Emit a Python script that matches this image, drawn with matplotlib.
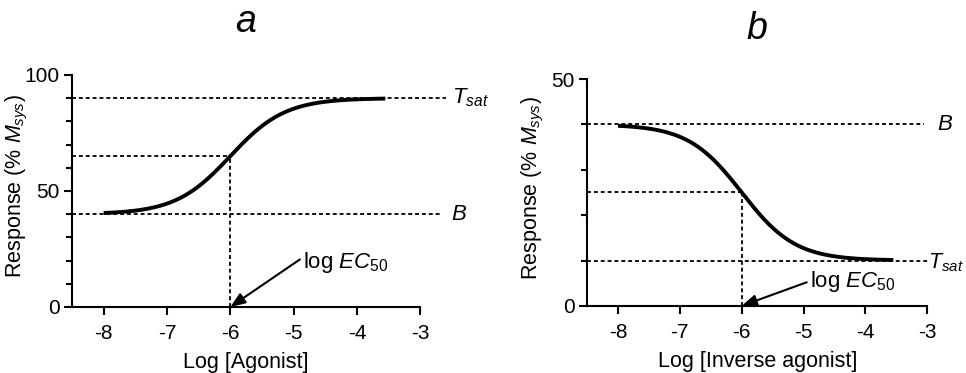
import numpy as np
import matplotlib
matplotlib.use("Agg")
import matplotlib.pyplot as plt

plt.rcParams['font.family'] = ['Liberation Sans', 'DejaVu Sans']
plt.rcParams['mathtext.fontset'] = 'custom'
plt.rcParams['mathtext.rm'] = 'Liberation Sans'
plt.rcParams['mathtext.it'] = 'Liberation Sans:italic'

# Data
log_conc = np.linspace(-8, -3.55, 200)
ec50 = -6.0
# panel a (agonist)
a_bottom, a_top = 40, 90
# panel b (inverse agonist)
b_basal, b_tsat = 40, 10
xticks = [-8, -7, -6, -5, -4, -3]
a_yticks = [0, 50, 100]
b_yticks = [0, 50]

def sigmoid(x, bottom, top, ec):
    return bottom + (top - bottom) / (1 + 10 ** (ec - x))

fig = plt.figure(figsize=(9.66, 3.73), dpi=100)
axA = fig.add_axes([0.0745, 0.177, 0.3605, 0.622])
axB = fig.add_axes([0.6077, 0.180, 0.3523, 0.608])

dash = dict(color='black', lw=1.3, linestyle=(0, (2.2, 1.6)), clip_on=False)

def style(ax, ymax, yticks):
    ax.set_xlim(-8.5, -3)
    ax.set_ylim(0, ymax)
    for s in ['top', 'right']:
        ax.spines[s].set_visible(False)
    for s in ['left', 'bottom']:
        ax.spines[s].set_linewidth(1.5)
    ax.set_xticks(xticks)
    ax.set_xticklabels([str(t) for t in xticks])
    ax.set_yticks(yticks)
    ax.set_yticklabels([str(int(v)) for v in yticks])
    ax.set_yticks(np.arange(0, ymax + 1, 10), minor=True)
    ax.tick_params(which='major', length=6, width=1.5, labelsize=15, pad=3)
    ax.tick_params(which='minor', length=4, width=1.5)
    ax.tick_params(axis='x', pad=6)
    ax.set_ylabel(r'Response (% $\mathit{M}_{\mathit{sys}}$)', fontsize=15.5)
    ax.yaxis.set_label_coords(-0.12, 0.52)

# Panel a
style(axA, 100, a_yticks)
ya = sigmoid(log_conc, a_bottom, a_top, ec50)
axA.plot(log_conc, ya, color='black', lw=2.8, solid_capstyle='butt')
mid_a = (a_bottom + a_top) / 2
axA.plot([-8.5, -2.6], [a_top, a_top], **dash)
axA.plot([-8.5, -2.68], [a_bottom, a_bottom], **dash)
axA.plot([-8.5, ec50], [mid_a, mid_a], **dash)
axA.plot([ec50, ec50], [0, mid_a], **dash)
axA.text(-2.5, a_top, r'$\mathit{T}_{\mathit{sat}}$', fontsize=16, va='center', ha='left')
axA.text(-2.52, a_bottom, r'$\mathit{B}$', fontsize=16, va='center', ha='left')
axA.annotate('', xy=(ec50, 0), xytext=(-4.9, 20.5),
             arrowprops=dict(arrowstyle='-|>,head_length=0.9,head_width=0.35', color='black', lw=1.5,
                             shrinkA=0, shrinkB=0), annotation_clip=False)
axA.text(-4.85, 19, r'log $\mathit{EC}_{\mathit{50}}$', fontsize=16, va='center', ha='left')
axA.set_xlabel('Log [Agonist]', fontsize=15.5, labelpad=7)
axA.set_title('a', fontsize=27, style='italic', pad=31)

# Panel b
style(axB, 50, b_yticks)
yb = sigmoid(log_conc, b_basal, b_tsat, ec50)
axB.plot(log_conc, yb, color='black', lw=2.8, solid_capstyle='butt')
mid_b = (b_basal + b_tsat) / 2
axB.plot([-8.5, -3.05], [b_basal, b_basal], **dash)
axB.plot([-8.5, -2.97], [b_tsat, b_tsat], **dash)
axB.plot([-8.5, ec50], [mid_b, mid_b], **dash)
axB.plot([ec50, ec50], [0, mid_b], **dash)
axB.text(-2.85, b_basal, r'$\mathit{B}$', fontsize=16, va='center', ha='left')
axB.text(-2.41, b_tsat - 0.5, r'$\mathit{T}_{\mathit{sat}}$', fontsize=15.5, va='center', ha='right')
axB.annotate('', xy=(ec50, 0), xytext=(-4.95, 5.2),
             arrowprops=dict(arrowstyle='-|>,head_length=0.9,head_width=0.35', color='black', lw=1.5,
                             shrinkA=0, shrinkB=0), annotation_clip=False)
axB.text(-4.9, 5.3, r'log $\mathit{EC}_{\mathit{50}}$', fontsize=16, va='center', ha='left')
axB.set_xlabel('Log [Inverse agonist]', fontsize=15.5, labelpad=7)
axB.set_title('b', fontsize=27, style='italic', pad=29)

fig.savefig('out.png', dpi=100)
